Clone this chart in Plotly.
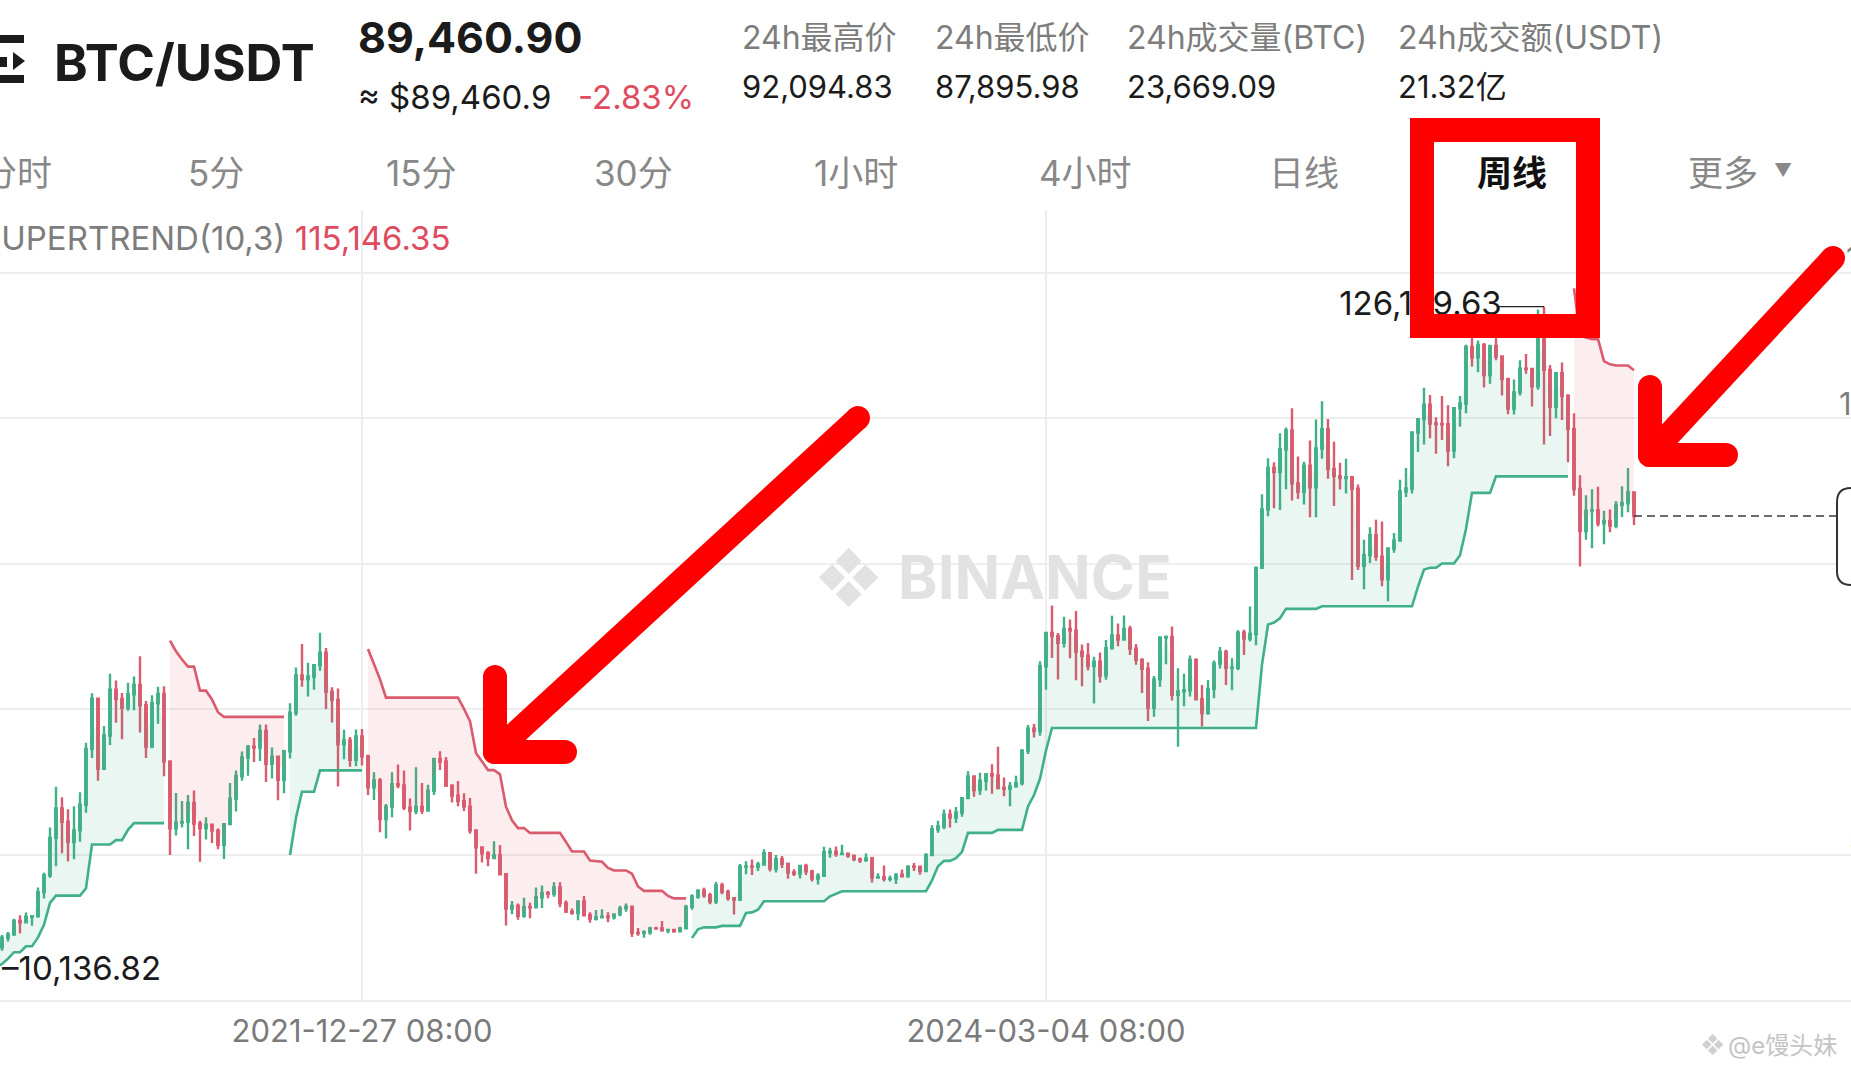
import pandas as pd
import plotly.graph_objects as go

# weekly BTC/USDT candles (week opens Monday)
WEEK_START = "2020-07-13"

OPEN = [
    # 2020
    9300, 9160, 9930, 11070, 11680, 11910, 11650, 11680, 10260, 10670, 11080, 10780, 10670,
    11380, 11500, 13030, 13760, 15480, 16050, 18400, 18180, 19150, 19270, 23480, 26440,
    # 2021
    33000, 38150, 35830, 32260, 34300, 38800, 48600, 57400, 45100, 50950, 59000, 57350, 55800,
    58200, 59800, 56250, 49000, 56600, 58250, 46400, 34650, 35670, 35800, 39100, 35500, 34700,
    35290, 34260, 31780, 35400, 39850, 43800, 47100, 49000, 48850, 51750, 46000, 47250, 43200,
    48200, 54950, 61500, 60850, 61300, 63270, 65500, 58600, 57200, 49400, 50100, 46700, 50800,
    # 2022
    47300, 41860, 43080, 36280, 38470, 42400, 42200, 38300, 37700, 38400, 37800, 41260, 46820,
    46400, 42160, 40380, 39440, 38470, 34300, 31330, 30300, 29450, 29900, 26600, 20580, 21030,
    19300, 20850, 20800, 22580, 23300, 23180, 24300, 21530, 20050, 19800, 21830, 19420, 18800,
    19050, 19180, 19070, 19570, 20620, 20910, 16330, 16280, 16430, 17100, 17090, 16780, 16830,
    # 2023
    16600, 17120, 20880, 22700, 23750, 22930, 21800, 24630, 23550, 22430, 22150, 27970, 27990,
    27940, 28330, 30300, 27600, 29230, 28430, 26920, 26750, 28080, 27110, 25840, 26340, 30460,
    30580, 30170, 30230, 29860, 29270, 29050, 29400, 26050, 26100, 25830, 25840, 26530, 26250,
    27990, 27920, 27150, 30000, 34500, 35000, 37060, 36570, 37450, 39970, 43780, 41370, 43010,
    # 2024
    44180, 43930, 41730, 41580, 42030, 42600, 48300, 52140, 51730, 63110, 68950, 68390, 67210,
    69650, 69360, 65660, 64940, 63120, 63890, 61480, 66270, 68500, 67770, 69650, 66200, 64250,
    62670, 55860, 60800, 68150, 68250, 58100, 58700, 58900, 64200, 57300, 54870, 59130, 63580,
    65600, 62820, 62850, 69000, 67970, 68750, 80370, 90600, 97900, 97185, 101170, 104460, 95190,
    93700,
    # 2025
    98300, 94500, 101300, 104700, 97700, 96460, 96100, 96250, 94270, 80730, 82600, 86080, 82330,
    78370, 83760, 85170, 93750, 94280, 104100, 106450, 109000, 105700, 105600, 105550, 100960,
    108380, 109200, 119100, 117300, 119450, 114200, 119300, 117450, 113500, 108300, 111150,
    115300, 115250, 112200, 123500, 115100, 108600, 114500, 110550, 104700, 94200, 86800,
    90400, 90500, 88200, 88600, 87800,
    # 2026
    91400, 91700, 93600,
]

HIGH = [
    # 2020
    9400, 9980, 12120, 11900, 12090, 12490, 11800, 12090, 10800, 11180, 11080, 10950, 11490,
    11720, 13350, 14100, 15960, 16480, 18800, 19420, 19900, 19420, 24300, 26870, 34800,
    # 2021
    41950, 40100, 38000, 38550, 41000, 49700, 58350, 57500, 52640, 61800, 60600, 58400, 60200,
    61300, 64854, 57000, 58000, 59500, 59600, 46600, 40850, 39480, 40500, 41300, 36000, 36600,
    35500, 34650, 35450, 42600, 44800, 48150, 49300, 50500, 52900, 52900, 48850, 47350, 48450,
    56600, 62900, 67000, 63700, 63500, 69000, 66300, 59400, 59200, 51950, 50700, 52000, 52100,
    # 2022
    47570, 44500, 43500, 38950, 44500, 45850, 44800, 39900, 45400, 42600, 42300, 46950, 48190,
    47200, 42400, 42950, 40800, 40000, 34500, 31400, 30650, 32400, 31750, 26800, 21900, 21500,
    22500, 21600, 24300, 24650, 23650, 25200, 25200, 22000, 20580, 21880, 22800, 19950, 20350,
    20480, 19950, 19700, 21080, 21480, 21050, 17200, 16800, 17420, 17420, 18390, 17060, 16970,
    # 2023
    17400, 21260, 23080, 23960, 24250, 23350, 25250, 25130, 23880, 22600, 28400, 28870, 29200,
    28800, 31000, 30300, 30000, 29800, 28650, 27500, 28200, 28450, 27400, 26800, 31430, 31280,
    31500, 31800, 30430, 30000, 29530, 30250, 29700, 26800, 28150, 26400, 26800, 27450, 28000,
    28600, 27950, 30300, 35200, 35980, 37970, 37950, 38400, 40000, 44700, 43800, 44400, 44000,
    # 2024
    45900, 49000, 43580, 42800, 43900, 48600, 52800, 52990, 64000, 69000, 73777, 68920, 71800,
    71300, 72800, 66900, 67200, 64750, 65500, 67700, 71950, 70600, 72000, 70200, 67000, 64500,
    63800, 61400, 68370, 68500, 70080, 62750, 61800, 65000, 64500, 59800, 60700, 64100, 66500,
    66000, 64500, 69400, 69500, 73600, 80500, 93265, 99588, 98900, 104000, 105000, 108353, 99900,
    99000,
    # 2025
    102700, 106400, 109588, 106500, 102500, 98800, 99500, 96500, 95000, 85300, 87500, 88800,
    88500, 83600, 86500, 95800, 97900, 104300, 106600, 111980, 110700, 106800, 110500, 108900,
    108500, 110500, 119500, 123218, 120250, 119800, 119300, 124474, 117600, 113600, 113400,
    116800, 117900, 115400, 125700, 126199.63, 115970, 114000, 116400, 110800, 107500, 96600,
    93100, 94150, 94600, 90400, 90600, 92100,
    # 2026
    94700, 97900, 93700,
]

LOW = [
    # 2020
    9030, 9140, 9900, 10960, 11125, 11280, 11100, 9960, 9875, 10630, 10136.82, 10375, 10520,
    11200, 11400, 12960, 13200, 14830, 15800, 16200, 18000, 17570, 19000, 22350, 26000,
    # 2021
    28000, 30300, 28850, 29240, 32300, 37400, 47000, 43000, 45000, 49300, 53200, 50300, 55300,
    55400, 51500, 47000, 48700, 53000, 43800, 30000, 33400, 34800, 31000, 33300, 28800, 32700,
    32100, 31000, 29280, 35200, 37600, 43000, 43900, 46300, 46500, 42800, 43400, 39600, 40800,
    46900, 54400, 59500, 57800, 59000, 62300, 55600, 53250, 42000, 46800, 45450, 45560, 45700,
    # 2022
    40500, 39650, 34000, 32900, 36600, 41700, 37900, 34300, 37150, 37200, 37600, 40500, 44900,
    41900, 39200, 38550, 37700, 33700, 26700, 28650, 28000, 29300, 26550, 17622, 19600, 18630,
    19000, 18900, 20750, 20700, 22400, 22650, 20800, 19800, 19500, 18550, 19330, 18120, 18500,
    19050, 18190, 18650, 19240, 20050, 15590, 15820, 15476, 16000, 16870, 16520, 16260, 16330,
    # 2023
    16550, 17100, 20400, 22300, 22500, 21350, 21400, 23100, 21970, 19550, 21900, 26600, 26500,
    27200, 28170, 27100, 26900, 27700, 25800, 26300, 25850, 26500, 25350, 24800, 26250, 29500,
    29700, 29950, 29500, 28900, 28600, 28800, 25150, 25800, 25350, 25350, 24900, 26100, 26000,
    27200, 26530, 27100, 29880, 33900, 34500, 34800, 35600, 36700, 39950, 40200, 40500, 41300,
    # 2024
    40750, 41500, 40300, 38550, 41800, 42200, 47700, 50600, 50900, 59000, 64550, 60775, 66400,
    64500, 60660, 59600, 62400, 56550, 60190, 60750, 66050, 66600, 67600, 65070, 63380, 58400,
    53500, 54260, 59500, 63450, 57100, 49000, 56100, 57800, 57200, 52550, 54600, 57500, 62700,
    59800, 58900, 62400, 65060, 67450, 66800, 80200, 89400, 90800, 90500, 94150, 92200, 92450,
    91500,
    # 2025
    89250, 89260, 99500, 96000, 91200, 94100, 93400, 78250, 80000, 76600, 81200, 81600, 77150,
    74500, 83000, 85000, 92800, 93400, 100700, 102000, 103100, 100370, 102800, 98200, 99600,
    105100, 107500, 115700, 114700, 112000, 112650, 116800, 110600, 107300, 107250, 110600,
    114400, 108650, 111600, 102000, 103500, 106600, 106300, 98900, 93000, 80600, 85300, 83800,
    87600, 84500, 86600, 87300,
    # 2026
    89300, 90100, 87896,
]

CLOSE = [
    # 2020
    9160, 9930, 11070, 11680, 11910, 11650, 11680, 10260, 10670, 11080, 10780, 10670, 11380,
    11500, 13030, 13760, 15480, 16050, 18400, 18180, 19150, 19270, 23480, 26440, 33000,
    # 2021
    38150, 35830, 32260, 34300, 38800, 48600, 57400, 45100, 50950, 59000, 57350, 55800, 58200,
    59800, 56250, 49000, 56600, 58250, 46400, 34650, 35670, 35800, 39100, 35500, 34700, 35290,
    34260, 31780, 35400, 39850, 43800, 47100, 49000, 48850, 51750, 46000, 47250, 43200, 48200,
    54950, 61500, 60850, 61300, 63270, 65500, 58600, 57200, 49400, 50100, 46700, 50800, 47300,
    # 2022
    41860, 43080, 36280, 38470, 42400, 42200, 38300, 37700, 38400, 37800, 41260, 46820, 46400,
    42160, 40380, 39440, 38470, 34300, 31330, 30300, 29450, 29900, 26600, 20580, 21030, 19300,
    20850, 20800, 22580, 23300, 23180, 24300, 21530, 20050, 19800, 21830, 19420, 18800, 19050,
    19180, 19070, 19570, 20620, 20910, 16330, 16280, 16430, 17100, 17090, 16780, 16830, 16600,
    # 2023
    17120, 20880, 22700, 23750, 22930, 21800, 24630, 23550, 22430, 22150, 27970, 27990, 27940,
    28330, 30300, 27600, 29230, 28430, 26920, 26750, 28080, 27110, 25840, 26340, 30460, 30580,
    30170, 30230, 29860, 29270, 29050, 29400, 26050, 26100, 25830, 25840, 26530, 26250, 27990,
    27920, 27150, 30000, 34500, 35000, 37060, 36570, 37450, 39970, 43780, 41370, 43010, 44180,
    # 2024
    43930, 41730, 41580, 42030, 42600, 48300, 52140, 51730, 63110, 68950, 68390, 67210, 69650,
    69360, 65660, 64940, 63120, 63890, 61480, 66270, 68500, 67770, 69650, 66200, 64250, 62670,
    55860, 60800, 68150, 68250, 58100, 58700, 58900, 64200, 57300, 54870, 59130, 63580, 65600,
    62820, 62850, 69000, 67970, 68750, 80370, 90600, 97900, 97185, 101170, 104460, 95190, 93700,
    98300,
    # 2025
    94500, 101300, 104700, 97700, 96460, 96100, 96250, 94270, 80730, 82600, 86080, 82330, 78370,
    83760, 85170, 93750, 94280, 104100, 106450, 109000, 105700, 105600, 105550, 100960, 108380,
    109200, 119100, 117300, 119450, 114200, 119300, 117450, 113500, 108300, 111150, 115300,
    115250, 112200, 123500, 115100, 108600, 114500, 110550, 104700, 94200, 86800, 90400, 90500,
    88200, 88600, 87800, 91400,
    # 2026
    91700, 93600, 89460.90,
]

ST_PERIOD = 10
ST_MULT = 3

GRID_PRICES = [30040, 55555, 81070, 106585, 132100]
DATE_TICKS = ["2021-12-27", "2024-03-04"]
DATE_LABELS = ["2021-12-27 08:00", "2024-03-04 08:00"]

LAST_PRICE = 89460.90
ATH_WEEK = "2025-10-06"
ATH_PRICE = 126199.63
RANGE_LOW = 10136.82
ST_VALUE_TEXT = "115,146.35"

PAIR = "BTC/USDT"
PRICE_TEXT = "89,460.90"
USD_TEXT = "≈ $89,460.9"
CHANGE_TEXT = "-2.83%"
STAT_LABELS = ["24h最高价", "24h最低价", "24h成交量(BTC)", "24h成交额(USDT)"]
STAT_VALUES = ["92,094.83", "87,895.98", "23,669.09", "21.32亿"]
TABS = ["分时", "5分", "15分", "30分", "1小时", "4小时", "日线", "周线", "更多"]
ACTIVE_TAB = "周线"

W, H = 1851, 1071
FONT = "Inter, 'Noto Sans CJK SC', sans-serif"
BLACK = "#1b1b1b"
GRAY = "#7d7d7d"
GREEN = "#40B087"
RED = "#DA5A6E"
RED_TEXT = "#E04B5F"
MARK = "#FF0000"


def supertrend(high, low, close, period, mult):
    n = len(close)
    tr = [high[0] - low[0]]
    for i in range(1, n):
        tr.append(max(high[i] - low[i], abs(high[i] - close[i - 1]), abs(low[i] - close[i - 1])))
    atr = [None] * n
    atr[period - 1] = sum(tr[:period]) / period
    for i in range(period, n):
        atr[i] = (atr[i - 1] * (period - 1) + tr[i]) / period
    st, trend = [None] * n, [0] * n
    up_prev = dn_prev = None
    t = 1
    for i in range(period - 1, n):
        hl2 = (high[i] + low[i]) / 2
        up = hl2 - mult * atr[i]
        dn = hl2 + mult * atr[i]
        if up_prev is not None:
            if close[i - 1] > up_prev:
                up = max(up, up_prev)
            if close[i - 1] < dn_prev:
                dn = min(dn, dn_prev)
            if t == -1 and close[i] > dn_prev:
                t = 1
            elif t == 1 and close[i] < up_prev:
                t = -1
        st[i] = up if t == 1 else dn
        trend[i] = t
        up_prev, dn_prev = up, dn
    return st, trend


weeks = list(pd.date_range(WEEK_START, periods=len(CLOSE), freq="7D"))
st, trend = supertrend(HIGH, LOW, CLOSE, ST_PERIOD, ST_MULT)
mid = [(o + c) / 2 for o, c in zip(OPEN, CLOSE)]
n = len(CLOSE)


def band(sign):
    xs, ys = [], []
    i = 0
    while i < n:
        if trend[i] != sign:
            i += 1
            continue
        j = i
        while j + 1 < n and trend[j + 1] == sign:
            j += 1
        seg = list(range(i, j + 1))
        xs += [weeks[k] for k in seg] + [weeks[k] for k in reversed(seg)] + [None]
        ys += [st[k] for k in seg] + [mid[k] for k in reversed(seg)] + [None]
        i = j + 1
    return xs, ys


fig = go.Figure()

for sign, fc in [(1, "rgba(64,176,135,0.11)"), (-1, "rgba(232,90,110,0.11)")]:
    bx, by = band(sign)
    fig.add_trace(go.Scatter(x=bx, y=by, mode="lines", fill="toself", fillcolor=fc,
                             line=dict(width=0), hoverinfo="skip"))

for sign, col in [(1, GREEN), (-1, RED)]:
    fig.add_trace(go.Scatter(x=weeks, y=[v if t == sign else None for v, t in zip(st, trend)],
                             mode="lines", line=dict(color=col, width=2.6), hoverinfo="skip"))

fig.add_trace(go.Candlestick(
    x=weeks, open=OPEN, high=HIGH, low=LOW, close=CLOSE,
    increasing=dict(line=dict(color=GREEN, width=2.4), fillcolor=GREEN),
    decreasing=dict(line=dict(color=RED, width=2.4), fillcolor=RED),
    whiskerwidth=0, hoverinfo="skip",
))

X_START, X_END = "2020-10-30 16:00", "2026-09-29 04:00"

# last price dashed line
fig.add_trace(go.Scatter(x=[weeks[-1], X_END], y=[LAST_PRICE, LAST_PRICE], mode="lines",
                         line=dict(color="#3a3a3a", width=1.6, dash="8px,5px"), hoverinfo="skip"))

# visible high marker (text kept as a trace so the red marks can cover it)
fig.add_trace(go.Scatter(x=[ATH_WEEK], y=[ATH_PRICE], mode="markers+text", text=[f"{ATH_PRICE:,.2f}"],
                         textposition="middle left", cliponaxis=False,
                         marker=dict(size=66, color="rgba(0,0,0,0)"),
                         textfont=dict(size=33, color=BLACK, family=FONT), hoverinfo="skip"))


def px(x):
    return x / W


def py(y):
    return 1 - y / H


def label(x, y, s, size, color=BLACK, anchor="left"):
    return dict(xref="paper", yref="paper", x=px(x), y=py(y), text=s, showarrow=False,
                xanchor=anchor, yanchor="middle", font=dict(size=size, color=color, family=FONT))


ann = [
    label(52, 62, f"<b>{PAIR}</b>", 51),
    label(356, 37, f"<b>{PRICE_TEXT}</b>", 43),
    label(356, 97, USD_TEXT, 33),
    label(576, 97, CHANGE_TEXT, 33, RED_TEXT),
]
for x, lab, val in zip([740, 933, 1125, 1396], STAT_LABELS, STAT_VALUES):
    ann.append(label(x, 38, lab, 32, GRAY))
    ann.append(label(x, 86, val, 31))
for x, tab in zip([17, 216, 421, 633, 856, 1085, 1304, 1512, 1723], TABS):
    if tab == ACTIVE_TAB:
        ann.append(label(x, 173, f"<b>{tab}</b>", 35, "#111111", "center"))
    else:
        ann.append(label(x, 173, tab, 35, "#888888", "center"))
ann.append(label(1783, 170, "▼", 18, "#888888", "center"))
ann.append(label(-22, 238, f"SUPERTREND({ST_PERIOD},{ST_MULT}) "
                 f"<span style='color:{RED_TEXT}'>{ST_VALUE_TEXT}</span>", 33, GRAY))

# watermarks
ann.append(label(848, 577, "❖", 62, "#e2e2e2", "center"))
ann.append(label(896, 577, "<b>BINANCE</b>", 60, "#e2e2e2"))
ann.append(label(1712, 1045, "❖", 22, "#cfcfcf", "center"))
ann.append(label(1726, 1045, "@e馒头妹", 24, "#c4c4c4"))

# leader line of the high marker
ann.append(dict(x=ATH_WEEK, y=ATH_PRICE, xref="x", yref="y", text="", showarrow=True,
                ax=-48, ay=0, arrowhead=0, arrowwidth=1.2, arrowcolor="#222222", standoff=0))

# visible low marker and right price scale (cut off by the screen edge)
ann.append(dict(xref="paper", yref="y", x=0, y=RANGE_LOW, text=f"–{RANGE_LOW:,.2f}",
                showarrow=False, xanchor="left", yanchor="middle",
                font=dict(size=33, color=BLACK, family=FONT)))
for v in GRID_PRICES:
    ann.append(dict(xref="paper", yref="y", x=1.082, y=v, yshift=15, text=f"{v:,.2f}",
                    showarrow=False, xanchor="right", yanchor="middle",
                    font=dict(size=31, color=GRAY, family=FONT)))

shapes = []
# pair switch icon at the top-left edge
shapes.append(dict(type="rect", xref="paper", yref="paper", x0=px(-10), x1=px(24), y0=py(43), y1=py(35),
                   fillcolor=BLACK, line=dict(width=0)))
shapes.append(dict(type="rect", xref="paper", yref="paper", x0=px(-10), x1=px(24), y0=py(83), y1=py(75),
                   fillcolor=BLACK, line=dict(width=0)))
shapes.append(dict(type="rect", xref="paper", yref="paper", x0=px(-6), x1=px(7), y0=py(67), y1=py(57),
                   fillcolor=BLACK, line=dict(width=0)))
shapes.append(dict(type="path", xref="paper", yref="paper",
                   path=f"M {px(13)},{py(52)} L {px(25)},{py(61)} L {px(13)},{py(70)} Z",
                   fillcolor=BLACK, line=dict(width=0)))

# price tag box at the right edge
x0, x1, y0, y1, r = 1837, 1905, 488, 585, 14
tag = (f"M {px(x0 + r)},{py(y0)} L {px(x1)},{py(y0)} L {px(x1)},{py(y1)} L {px(x0 + r)},{py(y1)} "
       f"Q {px(x0)},{py(y1)} {px(x0)},{py(y1 - r)} L {px(x0)},{py(y0 + r)} "
       f"Q {px(x0)},{py(y0)} {px(x0 + r)},{py(y0)} Z")
shapes.append(dict(type="path", xref="paper", yref="paper", path=tag, fillcolor="white",
                   line=dict(color="#333333", width=2)))

# hand-drawn red marks
shapes.append(dict(type="rect", xref="paper", yref="paper", x0=px(1422), x1=px(1588), y0=py(326), y1=py(130),
                   line=dict(color=MARK, width=24)))
strokes = [
    [(858, 418), (495, 752)], [(495, 752), (495, 677)], [(495, 752), (565, 752)],
    [(1833, 258), (1650, 455)], [(1650, 455), (1650, 387)], [(1650, 455), (1726, 455)],
]
for (ax_, ay_), (bx_, by_) in strokes:
    shapes.append(dict(type="line", xref="paper", yref="paper", x0=px(ax_), y0=py(ay_), x1=px(bx_), y1=py(by_),
                       line=dict(color=MARK, width=24)))
    for cx, cy in [(ax_, ay_), (bx_, by_)]:
        shapes.append(dict(type="circle", xref="paper", yref="paper", x0=px(cx - 12), x1=px(cx + 12),
                           y0=py(cy + 12), y1=py(cy - 12), fillcolor=MARK, line=dict(width=0)))

fig.update_layout(
    width=W, height=H, margin=dict(l=0, r=0, t=0, b=0),
    paper_bgcolor="white", plot_bgcolor="white", showlegend=False, hovermode=False,
    font=dict(family=FONT), boxgap=0.75, boxgroupgap=0,
    annotations=ann, shapes=shapes,
    xaxis=dict(type="date", range=[X_START, X_END], tickvals=DATE_TICKS, ticktext=DATE_LABELS,
               showgrid=True, gridcolor="#eeeeee", gridwidth=1.5, zeroline=False,
               showline=True, linecolor="#ececec", linewidth=2, ticks="",
               tickfont=dict(size=31, color="#7a7a7a"), ticklabelstandoff=3,
               rangeslider=dict(visible=False), fixedrange=True),
    yaxis=dict(domain=[1 - 1000 / H, 1 - 210 / H], range=[4548.6, 143145.1], tickvals=GRID_PRICES,
               showticklabels=False, showgrid=True, gridcolor="#eeeeee", gridwidth=1.5,
               zeroline=False, fixedrange=True),
)

fig.write_html("out.html", config={"displayModeBar": False},
               post_script="document.body.style.margin='0';document.body.style.overflow='hidden';")
